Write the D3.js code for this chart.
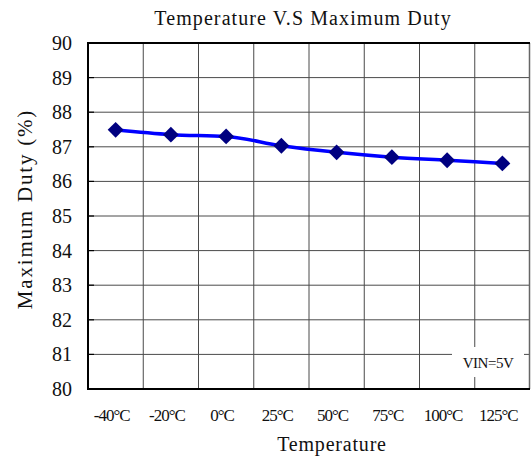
<!DOCTYPE html>
<html>
<head>
<meta charset="utf-8">
<script src="https://cdn.jsdelivr.net/npm/d3@7"></script>
<style>
  body { margin: 0; background: #fff; }
  text { font-family: "Liberation Serif", "Times New Roman", serif; fill: #111; }
</style>
</head>
<body>
<div id="chart"></div>
<script>
// Temperature vs maximum duty, VIN = 5V

// data
var temps = ["-40°C", "-20°C", "0°C", "25°C", "50°C", "75°C", "100°C", "125°C"];
var duty = [87.49, 87.35, 87.3, 87.03, 86.84, 86.7, 86.61, 86.52];
var yTicks = [80, 81, 82, 83, 84, 85, 86, 87, 88, 89, 90];

var width = 531;
var height = 457;
var margin = { top: 43, right: 1, bottom: 68, left: 88 };
var plotW = width - margin.left - margin.right;
var plotH = height - margin.top - margin.bottom;

var svg = d3.select("#chart")
  .append("svg")
  .attr("width", width)
  .attr("height", height);

var g = svg.append("g")
  .attr("transform", "translate(" + margin.left + "," + margin.top + ")");

var x = d3.scaleBand().domain(temps).range([0, plotW]).padding(0);
var y = d3.scaleLinear().domain([80, 90]).range([plotH, 0]);

// grid
g.selectAll(".hgrid")
  .data(yTicks.slice(1, -1))
  .enter()
  .append("line")
  .attr("x1", 0).attr("x2", plotW)
  .attr("y1", d => y(d)).attr("y2", d => y(d))
  .attr("stroke", "#4a4a4a").attr("stroke-width", 1);

g.selectAll(".vgrid")
  .data(temps.slice(1))
  .enter()
  .append("line")
  .attr("x1", d => x(d)).attr("x2", d => x(d))
  .attr("y1", 0).attr("y2", plotH)
  .attr("stroke", "#4a4a4a").attr("stroke-width", 1);

// small inner ticks on the y axis
g.selectAll(".ytick")
  .data(yTicks.slice(1, -1))
  .enter()
  .append("line")
  .attr("x1", 0).attr("x2", 6)
  .attr("y1", d => y(d)).attr("y2", d => y(d))
  .attr("stroke", "#000").attr("stroke-width", 1.2);

// frame
g.append("line").attr("x1", plotW - 0.5).attr("x2", plotW - 0.5).attr("y1", 0).attr("y2", plotH)
  .attr("stroke", "#666").attr("stroke-width", 1.5);
g.append("line").attr("x1", 0).attr("x2", plotW).attr("y1", 0).attr("y2", 0)
  .attr("stroke", "#000").attr("stroke-width", 2);
g.append("line").attr("x1", 0).attr("x2", 0).attr("y1", -1).attr("y2", plotH + 1)
  .attr("stroke", "#000").attr("stroke-width", 2);
g.append("line").attr("x1", 0).attr("x2", plotW).attr("y1", plotH).attr("y2", plotH)
  .attr("stroke", "#000").attr("stroke-width", 2);

// y tick labels
g.selectAll(".ylab")
  .data(yTicks)
  .enter()
  .append("text")
  .attr("x", -16)
  .attr("y", d => y(d))
  .attr("dy", "0.35em")
  .attr("text-anchor", "end")
  .style("font-size", "20px")
  .text(d => d);

// x tick labels
g.selectAll(".xlab")
  .data(temps)
  .enter()
  .append("text")
  .attr("x", d => x(d) + x.bandwidth() / 2 - 4)
  .attr("y", plotH + 32)
  .attr("text-anchor", "middle")
  .style("font-size", "17px")
  .style("letter-spacing", "-1px")
  .text(d => d);

// line + markers
var pts = temps.map((t, i) => [x(t) + x.bandwidth() / 2, y(duty[i])]);

g.append("path")
  .datum(pts)
  .attr("d", d3.line().curve(d3.curveMonotoneX))
  .attr("fill", "none")
  .attr("stroke", "#0000ff")
  .attr("stroke-width", 3.5);

g.selectAll(".marker")
  .data(pts)
  .enter()
  .append("path")
  .attr("transform", d => "translate(" + d[0] + "," + d[1] + ")")
  .attr("d", d3.symbol().type(d3.symbolDiamond2).size(160))
  .attr("fill", "#000080");

// VIN label with white box over the grid
var lab = g.append("g").attr("transform", "translate(" + (plotW - 78) + "," + (plotH - 42) + ")");
lab.append("rect").attr("x", 0).attr("y", 0).attr("width", 72).attr("height", 30).attr("fill", "#fff");
lab.append("text").attr("x", 36).attr("y", 21).attr("text-anchor", "middle")
  .style("font-size", "15px").style("letter-spacing", "-0.5px").text("VIN=5V");

// titles
svg.append("text")
  .attr("x", 303)
  .attr("y", 25)
  .attr("text-anchor", "middle")
  .style("font-size", "20px")
  .style("letter-spacing", "1.1px")
  .text("Temperature V.S Maximum Duty");

svg.append("text")
  .attr("x", 332)
  .attr("y", 451)
  .attr("text-anchor", "middle")
  .style("font-size", "20px")
  .style("letter-spacing", "0.8px")
  .text("Temperature");

svg.append("text")
  .attr("transform", "translate(32,209) rotate(-90)")
  .attr("text-anchor", "middle")
  .style("font-size", "21px")
  .style("letter-spacing", "1.8px")
  .text("Maximum Duty (%)");
</script>
</body>
</html>
